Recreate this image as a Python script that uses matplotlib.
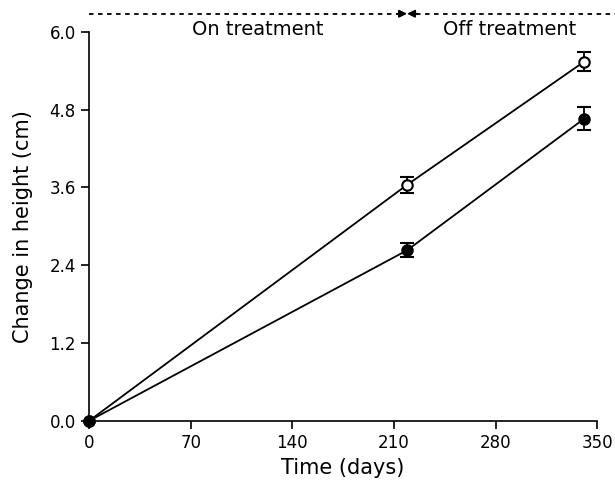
import matplotlib.pyplot as plt

days = [0, 219, 341]
on_tx = [0.0, 3.64, 5.54]
on_err = [0.0, 0.12, 0.15]
off_tx = [0.0, 2.63, 4.66]
off_err = [0.0, 0.11, 0.18]

xticks = [0, 70, 140, 210, 280, 350]
yticks = [0.0, 1.2, 2.4, 3.6, 4.8, 6.0]

switch_day = 219
arrow_y = 6.28

plt.rcParams['font.family'] = 'DejaVu Sans'

fig = plt.figure(figsize=(6.15, 4.98), dpi=100)
ax = fig.add_axes([0.145, 0.155, 0.826, 0.781])

for y, err, face in [(on_tx, on_err, 'white'), (off_tx, off_err, 'black')]:
    ax.plot(days, y, color='black', lw=1.3, zorder=2, clip_on=False)
    # error bars only where there is spread
    ax.errorbar(days[1:], y[1:], yerr=err[1:], fmt='none', ecolor='black',
                capsize=5, capthick=1.5, elinewidth=1.3, zorder=3)
    ax.plot(days, y, 'o', ms=7.5, mfc=face, mec='black', mew=1.5,
            zorder=4, clip_on=False)

ax.set_xlim(0, 350)
ax.set_ylim(0, 6.0)
ax.set_xticks(xticks)
ax.set_yticks(yticks)
ax.set_yticklabels([f'{v:.1f}' for v in yticks])
ax.spines['top'].set_visible(False)
ax.spines['right'].set_visible(False)
ax.spines['left'].set_linewidth(1.2)
ax.spines['bottom'].set_linewidth(1.2)
ax.tick_params(direction='out', length=6, width=1.2, labelsize=12)
ax.set_xlabel('Time (days)', fontsize=15)
ax.set_ylabel('Change in height (cm)', fontsize=15, labelpad=12)

# treatment period annotation above the plot: dashed lines + solid heads
ax.plot([0, switch_day - 6], [arrow_y, arrow_y], color='black', lw=1.3,
        ls=(0, (2.5, 2.5)), clip_on=False)
ax.plot([switch_day + 6, 362], [arrow_y, arrow_y], color='black', lw=1.3,
        ls=(0, (2.5, 2.5)), clip_on=False)
head = dict(arrowstyle='-|>', color='black', lw=1.3, mutation_scale=11,
            shrinkA=0, shrinkB=0)
ax.annotate('', xy=(switch_day, arrow_y), xytext=(switch_day - 7, arrow_y),
            annotation_clip=False, arrowprops=head)
ax.annotate('', xy=(switch_day, arrow_y), xytext=(switch_day + 7, arrow_y),
            annotation_clip=False, arrowprops=head)
ax.text(116, 6.03, 'On treatment', ha='center', va='center', fontsize=14)
ax.text(290, 6.03, 'Off treatment', ha='center', va='center', fontsize=14)

plt.savefig('out.png', dpi=100)
